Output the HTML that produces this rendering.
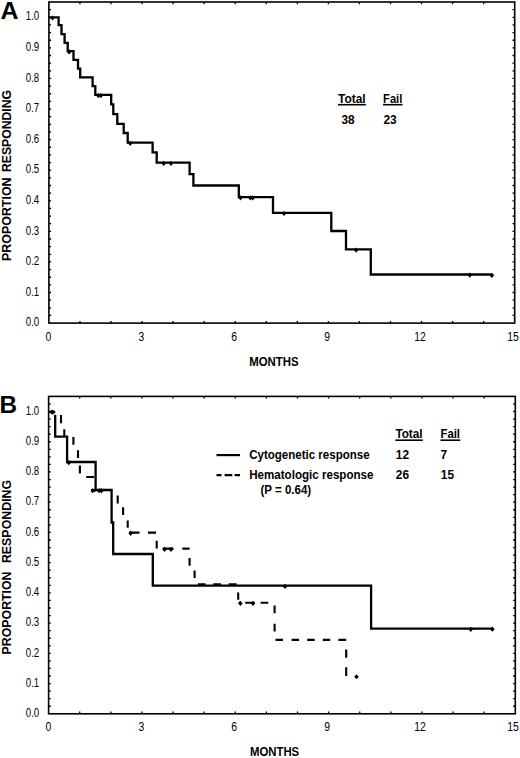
<!DOCTYPE html>
<html><head><meta charset="utf-8"><style>
html,body{margin:0;padding:0;background:#fff;}
body{width:520px;height:758px;overflow:hidden;}
svg{display:block;}
text{font-family:"Liberation Sans", sans-serif;fill:#000;}
.yl{font-size:12px;}
.xl{font-size:12px;}
.big{font-size:24.5px;font-weight:bold;}
.t{font-size:12px;font-weight:bold;}
.b{font-size:12.5px;font-weight:bold;}
</style></head><body>
<svg width="520" height="758" viewBox="0 0 520 758">
<rect width="520" height="758" fill="#fff"/>
<rect x="48.9" y="2.0" width="465.80" height="321.10" fill="none" stroke="#000" stroke-width="1.6"/>
<path d="M79.95 323.10v-2.2 M79.95 2.00v2.2 M111.01 323.10v-2.2 M111.01 2.00v2.2 M142.06 323.10v-2.2 M142.06 2.00v2.2 M173.11 323.10v-2.2 M173.11 2.00v2.2 M204.17 323.10v-2.2 M204.17 2.00v2.2 M235.22 323.10v-2.2 M235.22 2.00v2.2 M266.27 323.10v-2.2 M266.27 2.00v2.2 M297.33 323.10v-2.2 M297.33 2.00v2.2 M328.38 323.10v-2.2 M328.38 2.00v2.2 M359.43 323.10v-2.2 M359.43 2.00v2.2 M390.49 323.10v-2.2 M390.49 2.00v2.2 M421.54 323.10v-2.2 M421.54 2.00v2.2 M452.59 323.10v-2.2 M452.59 2.00v2.2 M483.65 323.10v-2.2 M483.65 2.00v2.2 M48.90 315.45h2.2 M514.70 315.45h-2.2 M48.90 307.81h2.2 M514.70 307.81h-2.2 M48.90 300.16h2.2 M514.70 300.16h-2.2 M48.90 292.52h2.2 M514.70 292.52h-2.2 M48.90 284.87h2.2 M514.70 284.87h-2.2 M48.90 277.23h2.2 M514.70 277.23h-2.2 M48.90 269.58h2.2 M514.70 269.58h-2.2 M48.90 261.94h2.2 M514.70 261.94h-2.2 M48.90 254.29h2.2 M514.70 254.29h-2.2 M48.90 246.65h2.2 M514.70 246.65h-2.2 M48.90 239.00h2.2 M514.70 239.00h-2.2 M48.90 231.36h2.2 M514.70 231.36h-2.2 M48.90 223.71h2.2 M514.70 223.71h-2.2 M48.90 216.07h2.2 M514.70 216.07h-2.2 M48.90 208.42h2.2 M514.70 208.42h-2.2 M48.90 200.78h2.2 M514.70 200.78h-2.2 M48.90 193.13h2.2 M514.70 193.13h-2.2 M48.90 185.49h2.2 M514.70 185.49h-2.2 M48.90 177.84h2.2 M514.70 177.84h-2.2 M48.90 170.20h2.2 M514.70 170.20h-2.2 M48.90 162.55h2.2 M514.70 162.55h-2.2 M48.90 154.90h2.2 M514.70 154.90h-2.2 M48.90 147.26h2.2 M514.70 147.26h-2.2 M48.90 139.61h2.2 M514.70 139.61h-2.2 M48.90 131.97h2.2 M514.70 131.97h-2.2 M48.90 124.32h2.2 M514.70 124.32h-2.2 M48.90 116.68h2.2 M514.70 116.68h-2.2 M48.90 109.03h2.2 M514.70 109.03h-2.2 M48.90 101.39h2.2 M514.70 101.39h-2.2 M48.90 93.74h2.2 M514.70 93.74h-2.2 M48.90 86.10h2.2 M514.70 86.10h-2.2 M48.90 78.45h2.2 M514.70 78.45h-2.2 M48.90 70.81h2.2 M514.70 70.81h-2.2 M48.90 63.16h2.2 M514.70 63.16h-2.2 M48.90 55.52h2.2 M514.70 55.52h-2.2 M48.90 47.87h2.2 M514.70 47.87h-2.2 M48.90 40.23h2.2 M514.70 40.23h-2.2 M48.90 32.58h2.2 M514.70 32.58h-2.2 M48.90 24.94h2.2 M514.70 24.94h-2.2 M48.90 17.29h2.2 M514.70 17.29h-2.2 M48.90 9.65h2.2 M514.70 9.65h-2.2" stroke="#000" stroke-width="1.3" fill="none"/>
<text x="39.2" y="326.30" text-anchor="end" class="yl" textLength="13.4" lengthAdjust="spacingAndGlyphs">0.0</text>
<text x="39.2" y="295.72" text-anchor="end" class="yl" textLength="13.4" lengthAdjust="spacingAndGlyphs">0.1</text>
<text x="39.2" y="265.14" text-anchor="end" class="yl" textLength="13.4" lengthAdjust="spacingAndGlyphs">0.2</text>
<text x="39.2" y="234.56" text-anchor="end" class="yl" textLength="13.4" lengthAdjust="spacingAndGlyphs">0.3</text>
<text x="39.2" y="203.98" text-anchor="end" class="yl" textLength="13.4" lengthAdjust="spacingAndGlyphs">0.4</text>
<text x="39.2" y="173.40" text-anchor="end" class="yl" textLength="13.4" lengthAdjust="spacingAndGlyphs">0.5</text>
<text x="39.2" y="142.81" text-anchor="end" class="yl" textLength="13.4" lengthAdjust="spacingAndGlyphs">0.6</text>
<text x="39.2" y="112.23" text-anchor="end" class="yl" textLength="13.4" lengthAdjust="spacingAndGlyphs">0.7</text>
<text x="39.2" y="81.65" text-anchor="end" class="yl" textLength="13.4" lengthAdjust="spacingAndGlyphs">0.8</text>
<text x="39.2" y="51.07" text-anchor="end" class="yl" textLength="13.4" lengthAdjust="spacingAndGlyphs">0.9</text>
<text x="39.2" y="20.49" text-anchor="end" class="yl" textLength="13.4" lengthAdjust="spacingAndGlyphs">1.0</text>
<text x="48.40" y="340.6" text-anchor="middle" class="xl" textLength="5.8" lengthAdjust="spacingAndGlyphs">0</text>
<text x="141.31" y="340.6" text-anchor="middle" class="xl" textLength="5.8" lengthAdjust="spacingAndGlyphs">3</text>
<text x="234.22" y="340.6" text-anchor="middle" class="xl" textLength="5.8" lengthAdjust="spacingAndGlyphs">6</text>
<text x="327.13" y="340.6" text-anchor="middle" class="xl" textLength="5.8" lengthAdjust="spacingAndGlyphs">9</text>
<text x="420.04" y="340.6" text-anchor="middle" class="xl" textLength="11.6" lengthAdjust="spacingAndGlyphs">12</text>
<text x="512.95" y="340.6" text-anchor="middle" class="xl" textLength="11.6" lengthAdjust="spacingAndGlyphs">15</text>
<rect x="48.6" y="396.4" width="466.70" height="317.40" fill="none" stroke="#000" stroke-width="1.6"/>
<path d="M79.71 713.80v-2.2 M79.71 396.40v2.2 M110.83 713.80v-2.2 M110.83 396.40v2.2 M141.94 713.80v-2.2 M141.94 396.40v2.2 M173.05 713.80v-2.2 M173.05 396.40v2.2 M204.17 713.80v-2.2 M204.17 396.40v2.2 M235.28 713.80v-2.2 M235.28 396.40v2.2 M266.39 713.80v-2.2 M266.39 396.40v2.2 M297.51 713.80v-2.2 M297.51 396.40v2.2 M328.62 713.80v-2.2 M328.62 396.40v2.2 M359.73 713.80v-2.2 M359.73 396.40v2.2 M390.85 713.80v-2.2 M390.85 396.40v2.2 M421.96 713.80v-2.2 M421.96 396.40v2.2 M453.07 713.80v-2.2 M453.07 396.40v2.2 M484.19 713.80v-2.2 M484.19 396.40v2.2 M48.60 706.24h2.2 M515.30 706.24h-2.2 M48.60 698.69h2.2 M515.30 698.69h-2.2 M48.60 691.13h2.2 M515.30 691.13h-2.2 M48.60 683.57h2.2 M515.30 683.57h-2.2 M48.60 676.01h2.2 M515.30 676.01h-2.2 M48.60 668.46h2.2 M515.30 668.46h-2.2 M48.60 660.90h2.2 M515.30 660.90h-2.2 M48.60 653.34h2.2 M515.30 653.34h-2.2 M48.60 645.79h2.2 M515.30 645.79h-2.2 M48.60 638.23h2.2 M515.30 638.23h-2.2 M48.60 630.67h2.2 M515.30 630.67h-2.2 M48.60 623.11h2.2 M515.30 623.11h-2.2 M48.60 615.56h2.2 M515.30 615.56h-2.2 M48.60 608.00h2.2 M515.30 608.00h-2.2 M48.60 600.44h2.2 M515.30 600.44h-2.2 M48.60 592.89h2.2 M515.30 592.89h-2.2 M48.60 585.33h2.2 M515.30 585.33h-2.2 M48.60 577.77h2.2 M515.30 577.77h-2.2 M48.60 570.21h2.2 M515.30 570.21h-2.2 M48.60 562.66h2.2 M515.30 562.66h-2.2 M48.60 555.10h2.2 M515.30 555.10h-2.2 M48.60 547.54h2.2 M515.30 547.54h-2.2 M48.60 539.99h2.2 M515.30 539.99h-2.2 M48.60 532.43h2.2 M515.30 532.43h-2.2 M48.60 524.87h2.2 M515.30 524.87h-2.2 M48.60 517.31h2.2 M515.30 517.31h-2.2 M48.60 509.76h2.2 M515.30 509.76h-2.2 M48.60 502.20h2.2 M515.30 502.20h-2.2 M48.60 494.64h2.2 M515.30 494.64h-2.2 M48.60 487.09h2.2 M515.30 487.09h-2.2 M48.60 479.53h2.2 M515.30 479.53h-2.2 M48.60 471.97h2.2 M515.30 471.97h-2.2 M48.60 464.41h2.2 M515.30 464.41h-2.2 M48.60 456.86h2.2 M515.30 456.86h-2.2 M48.60 449.30h2.2 M515.30 449.30h-2.2 M48.60 441.74h2.2 M515.30 441.74h-2.2 M48.60 434.19h2.2 M515.30 434.19h-2.2 M48.60 426.63h2.2 M515.30 426.63h-2.2 M48.60 419.07h2.2 M515.30 419.07h-2.2 M48.60 411.51h2.2 M515.30 411.51h-2.2 M48.60 403.96h2.2 M515.30 403.96h-2.2" stroke="#000" stroke-width="1.3" fill="none"/>
<text x="39.2" y="717.00" text-anchor="end" class="yl" textLength="13.4" lengthAdjust="spacingAndGlyphs">0.0</text>
<text x="39.2" y="686.77" text-anchor="end" class="yl" textLength="13.4" lengthAdjust="spacingAndGlyphs">0.1</text>
<text x="39.2" y="656.54" text-anchor="end" class="yl" textLength="13.4" lengthAdjust="spacingAndGlyphs">0.2</text>
<text x="39.2" y="626.31" text-anchor="end" class="yl" textLength="13.4" lengthAdjust="spacingAndGlyphs">0.3</text>
<text x="39.2" y="596.09" text-anchor="end" class="yl" textLength="13.4" lengthAdjust="spacingAndGlyphs">0.4</text>
<text x="39.2" y="565.86" text-anchor="end" class="yl" textLength="13.4" lengthAdjust="spacingAndGlyphs">0.5</text>
<text x="39.2" y="535.63" text-anchor="end" class="yl" textLength="13.4" lengthAdjust="spacingAndGlyphs">0.6</text>
<text x="39.2" y="505.40" text-anchor="end" class="yl" textLength="13.4" lengthAdjust="spacingAndGlyphs">0.7</text>
<text x="39.2" y="475.17" text-anchor="end" class="yl" textLength="13.4" lengthAdjust="spacingAndGlyphs">0.8</text>
<text x="39.2" y="444.94" text-anchor="end" class="yl" textLength="13.4" lengthAdjust="spacingAndGlyphs">0.9</text>
<text x="39.2" y="414.71" text-anchor="end" class="yl" textLength="13.4" lengthAdjust="spacingAndGlyphs">1.0</text>
<text x="48.40" y="731.3" text-anchor="middle" class="xl" textLength="5.8" lengthAdjust="spacingAndGlyphs">0</text>
<text x="141.31" y="731.3" text-anchor="middle" class="xl" textLength="5.8" lengthAdjust="spacingAndGlyphs">3</text>
<text x="234.22" y="731.3" text-anchor="middle" class="xl" textLength="5.8" lengthAdjust="spacingAndGlyphs">6</text>
<text x="327.13" y="731.3" text-anchor="middle" class="xl" textLength="5.8" lengthAdjust="spacingAndGlyphs">9</text>
<text x="420.04" y="731.3" text-anchor="middle" class="xl" textLength="11.6" lengthAdjust="spacingAndGlyphs">12</text>
<text x="512.95" y="731.3" text-anchor="middle" class="xl" textLength="11.6" lengthAdjust="spacingAndGlyphs">15</text>
<path d="M48.6 17.3H58.6V25.2H61.5V34.2H64.6V42.9H67.7V51.2H73.5V59.8H78.0V68.6H80.2V77.4H92.6V86.2H95.3V94.9H111.2V104.3H113.3V114.2H117.3V123.8H123.7V133.0H127.7V142.6H152.6V152.3H156.7V162.7H189.6V174.2H193.4V185.5H238.8V197.1H273.0V212.8H331.3V231.0H346.0V249.4H370.8V274.5H492.0" fill="none" stroke="#000" stroke-width="2.3" stroke-linejoin="miter" stroke-linecap="butt"/>
<path d="M52.50 15.40L54.70 18.00L52.50 20.60L50.30 18.00Z" fill="#000"/>
<path d="M69.20 49.30L71.40 51.90L69.20 54.50L67.00 51.90Z" fill="#000"/>
<path d="M98.30 93.00L100.50 95.60L98.30 98.20L96.10 95.60Z" fill="#000"/>
<path d="M100.90 93.00L103.10 95.60L100.90 98.20L98.70 95.60Z" fill="#000"/>
<path d="M130.20 140.70L132.40 143.30L130.20 145.90L128.00 143.30Z" fill="#000"/>
<path d="M163.70 160.80L165.90 163.40L163.70 166.00L161.50 163.40Z" fill="#000"/>
<path d="M171.00 160.80L173.20 163.40L171.00 166.00L168.80 163.40Z" fill="#000"/>
<path d="M240.50 195.20L242.70 197.80L240.50 200.40L238.30 197.80Z" fill="#000"/>
<path d="M250.30 195.20L252.50 197.80L250.30 200.40L248.10 197.80Z" fill="#000"/>
<path d="M252.70 195.20L254.90 197.80L252.70 200.40L250.50 197.80Z" fill="#000"/>
<path d="M284.00 210.90L286.20 213.50L284.00 216.10L281.80 213.50Z" fill="#000"/>
<path d="M356.20 247.50L358.40 250.10L356.20 252.70L354.00 250.10Z" fill="#000"/>
<path d="M469.80 272.60L472.00 275.20L469.80 277.80L467.60 275.20Z" fill="#000"/>
<path d="M491.80 272.70L494.20 275.30L491.80 277.90L489.40 275.30Z" fill="#000"/>
<path d="M55.2 414.8V436.7H67.1V462.0H95.6V490.0H111.6V522.5H113.2V554.0H152.8V585.7H371.1V628.6H492.3" fill="none" stroke="#000" stroke-width="2.3" stroke-linejoin="miter"/>
<path d="M68.80 460.10L71.00 462.70L68.80 465.30L66.60 462.70Z" fill="#000"/>
<path d="M92.80 488.10L95.00 490.70L92.80 493.30L90.60 490.70Z" fill="#000"/>
<path d="M99.20 488.10L101.40 490.70L99.20 493.30L97.00 490.70Z" fill="#000"/>
<path d="M101.60 488.10L103.80 490.70L101.60 493.30L99.40 490.70Z" fill="#000"/>
<path d="M285.00 583.80L287.20 586.40L285.00 589.00L282.80 586.40Z" fill="#000"/>
<path d="M470.80 626.70L473.00 629.30L470.80 631.90L468.60 629.30Z" fill="#000"/>
<path d="M492.30 626.60L494.70 629.20L492.30 631.80L489.90 629.20Z" fill="#000"/>
<path d="M48.6 411.8H55.0" stroke="#000" stroke-width="2"/>
<path d="M91.0 490.4H95.6" stroke="#000" stroke-width="2.8"/>
<path d="M49.2 412.2L52.4 409.6L55.8 412.2L52.4 414.8Z" fill="#000"/>
<path d="M61.0 415.0L61.0 423.3 M64.3 429.2L64.3 436.7 M73.4 437.1L73.4 444.8 M78.0 450.2L78.0 457.9 M79.9 465.5L79.9 473.5 M86.2 477.0L94.0 477.0 M117.7 495.6L117.7 503.5 M123.1 507.2L123.1 515.0 M127.7 520.4L127.7 527.7 M129.0 532.6L139.5 532.6 M148.0 532.6L156.0 532.6 M156.7 540.7L156.7 548.4 M162.7 548.6L173.5 548.6 M182.3 548.6L189.6 548.6 M189.6 557.9L189.6 565.7 M194.6 570.4L194.6 578.0 M197.9 584.2L205.6 584.2 M213.3 584.2L221.0 584.2 M228.7 584.2L236.6 584.2 M238.2 592.6L238.2 599.8 M238.6 602.7L241.0 602.7 M245.2 602.7L254.8 602.7 M260.6 602.7L268.3 602.7 M274.6 605.6L274.6 613.3 M274.6 623.8L274.6 631.5 M275.5 639.9L283.0 639.9 M291.6 639.9L299.1 639.9 M307.2 639.9L314.7 639.9 M322.8 639.9L330.2 639.9 M338.4 639.9L346.2 639.9 M346.2 649.4L346.2 657.7 M346.2 667.2L346.2 675.9" fill="none" stroke="#000" stroke-width="2.1" stroke-linecap="butt"/>
<path d="M130.60 530.70L132.80 533.30L130.60 535.90L128.40 533.30Z" fill="#000"/>
<path d="M164.50 546.70L166.70 549.30L164.50 551.90L162.30 549.30Z" fill="#000"/>
<path d="M171.00 546.70L173.20 549.30L171.00 551.90L168.80 549.30Z" fill="#000"/>
<path d="M240.40 600.80L242.60 603.40L240.40 606.00L238.20 603.40Z" fill="#000"/>
<path d="M253.00 600.80L255.20 603.40L253.00 606.00L250.80 603.40Z" fill="#000"/>
<path d="M356.5 674.2L358.8 676.7L356.5 679.2L354.2 676.7Z" fill="#000"/>
<text x="0.6" y="19.3" class="big" textLength="18" lengthAdjust="spacingAndGlyphs">A</text>
<text x="-0.6" y="413.2" class="big" textLength="17.6" lengthAdjust="spacingAndGlyphs">B</text>
<text transform="translate(11.3 260.9) rotate(-90)" class="t" textLength="83.4" lengthAdjust="spacingAndGlyphs">PROPORTION</text>
<text transform="translate(11.3 172.0) rotate(-90)" class="t" textLength="82.0" lengthAdjust="spacingAndGlyphs">RESPONDING</text>
<text transform="translate(11.3 654.4) rotate(-90)" class="t" textLength="82.9" lengthAdjust="spacingAndGlyphs">PROPORTION</text>
<text transform="translate(11.3 563.1) rotate(-90)" class="t" textLength="83.3" lengthAdjust="spacingAndGlyphs">RESPONDING</text>
<text x="249.2" y="365.8" class="t" textLength="49.3" lengthAdjust="spacingAndGlyphs">MONTHS</text>
<text x="250.0" y="756.2" class="t" textLength="49.2" lengthAdjust="spacingAndGlyphs">MONTHS</text>
<text x="338" y="102.7" class="b" textLength="27.7" lengthAdjust="spacingAndGlyphs">Total</text>
<rect x="338" y="103.9" width="27.9" height="1.6" fill="#000"/>
<text x="383.1" y="102.7" class="b" textLength="19.2" lengthAdjust="spacingAndGlyphs">Fail</text>
<rect x="383.1" y="103.9" width="19.4" height="1.6" fill="#000"/>
<text x="341.5" y="123.5" class="b" textLength="13.2" lengthAdjust="spacingAndGlyphs">38</text>
<text x="383.5" y="123.5" class="b" textLength="13.2" lengthAdjust="spacingAndGlyphs">23</text>
<path d="M216.5 455.1H240" stroke="#000" stroke-width="2.2"/>
<path d="M216.5 475.1H221.5M224.6 475.1H232.3M234.6 475.1H240" stroke="#000" stroke-width="2.2"/>
<text x="249.2" y="458.8" class="b" textLength="120.4" lengthAdjust="spacingAndGlyphs">Cytogenetic response</text>
<text x="249.2" y="478.5" class="b" textLength="124.3" lengthAdjust="spacingAndGlyphs">Hematologic response</text>
<text x="260.5" y="493.9" class="b" textLength="50.7" lengthAdjust="spacingAndGlyphs">(P = 0.64)</text>
<text x="395.4" y="438.2" class="b" textLength="27.2" lengthAdjust="spacingAndGlyphs">Total</text>
<rect x="395.4" y="439.4" width="27.4" height="1.6" fill="#000"/>
<text x="440.5" y="438.2" class="b" textLength="19.5" lengthAdjust="spacingAndGlyphs">Fail</text>
<rect x="440.5" y="439.4" width="19.7" height="1.6" fill="#000"/>
<text x="395.8" y="458.8" class="b" textLength="13.2" lengthAdjust="spacingAndGlyphs">12</text>
<text x="440.6" y="458.8" class="b" textLength="6.6" lengthAdjust="spacingAndGlyphs">7</text>
<text x="395.8" y="478.5" class="b" textLength="13.2" lengthAdjust="spacingAndGlyphs">26</text>
<text x="440.8" y="478.5" class="b" textLength="13.2" lengthAdjust="spacingAndGlyphs">15</text>
</svg>
</body></html>
